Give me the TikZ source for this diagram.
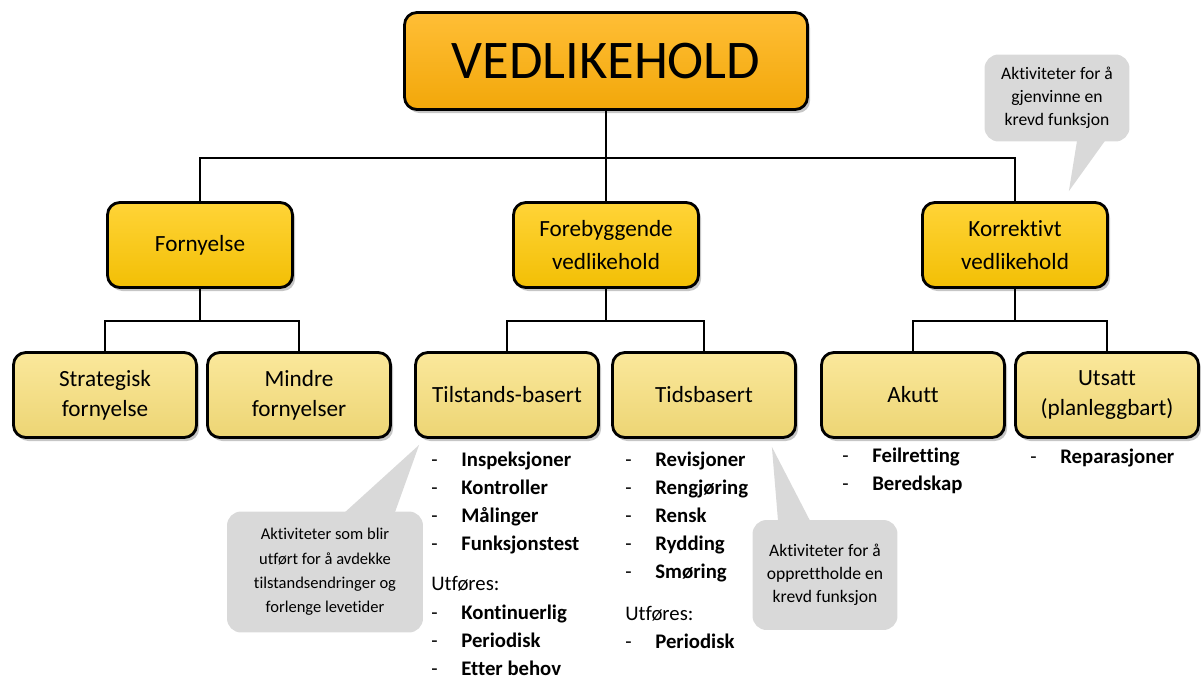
\documentclass[tikz,border=0pt]{standalone}
\usepackage{fontspec}
\setmainfont{Carlito}[Ligatures=NoCommon]
\usepackage{tikz}
\usetikzlibrary{calc}
\usetikzlibrary{shadows}
\usetikzlibrary{positioning}

\definecolor{oransje}{HTML}{FFB00A}
\definecolor{gull}{HTML}{FFC905}
\definecolor{lysgul}{HTML}{F9E07A}
\definecolor{boblegraa}{HTML}{D9D9D9}

\tikzstyle{boks} = [draw=black, line width=1.6pt, rounded corners=7pt, align=center, inner sep=2pt,
  drop shadow={shadow xshift=1.5pt, shadow yshift=-2pt, opacity=0.45}]
\tikzstyle{hoved} = [boks, top color=oransje!82!white, bottom color=oransje!95!black,
  minimum width=8.06cm, minimum height=1.94cm, font=\fontsize{31}{36}\selectfont]
\tikzstyle{niva2} = [boks, top color=gull!80!white, bottom color=gull!95!black,
  minimum width=3.7cm, minimum height=1.7cm, font=\fontsize{13.2}{18.5}\selectfont]
\tikzstyle{niva3} = [boks, top color=lysgul!75!white, bottom color=lysgul!95!black,
  minimum width=3.66cm, minimum height=1.7cm, font=\fontsize{13.2}{17}\selectfont]
\tikzstyle{liste} = [inner sep=0, align=left, anchor=north west, font=\fontsize{11.8}{15.9}\selectfont]
\tikzstyle{boble} = [fill=boblegraa, rounded corners=8pt, align=center, inner sep=2pt,
  font=\fontsize{10}{13.2}\selectfont]
\tikzstyle{linje} = [draw=black, line width=1.1pt]

\newcommand{\strek}{\makebox[0.6cm][l]{-}}

\begin{document}
\begin{tikzpicture}[x=0.02cm, y=-0.02cm]
\useasboundingbox (0,0) rectangle (1201,680);

% hovedboks og tre grener
\node [hoved] (vedl) at (606,61) {VEDLIKEHOLD};
\node [niva2] (forn) at (200,245) {Fornyelse};
\node [niva2] (fore) at (606,245) {Forebyggende\\vedlikehold};
\node [niva2] (korr) at (1015,245) {Korrektivt\\vedlikehold};

% nederste nivaa
\node [niva3] (strat) at (105,395) {Strategisk\\fornyelse};
\node [niva3] (mindre) at (299,395) {Mindre\\fornyelser};
\node [niva3] (tilst) at (507,395) {Tilstands-basert};
\node [niva3] (tids) at (704,395) {Tidsbasert};
\node [niva3] (akutt) at (913,395) {Akutt};
\node [niva3] (utsatt) at (1107,395) {Utsatt\\(planleggbart)};

% koblinger
\coordinate (j0) at (606,158);
\coordinate (j1) at (200,321);
\coordinate (j2) at (606,321);
\coordinate (j3) at (1015,321);
\draw [linje] (vedl.south) -- (fore.north);
\draw [linje] (forn.north) |- (j0) -| (korr.north);
\draw [linje] (forn.south) -- (j1);
\draw [linje] (strat.north) |- (j1) -| (mindre.north);
\draw [linje] (fore.south) -- (j2);
\draw [linje] (tilst.north) |- (j2) -| (tids.north);
\draw [linje] (korr.south) -- (j3);
\draw [linje] (akutt.north) |- (j3) -| (utsatt.north);

% lister
\node [liste] (tlist) at (431,452) {%
\strek\textbf{Inspeksjoner}\\
\strek\textbf{Kontroller}\\
\strek\textbf{Målinger}\\
\strek\textbf{Funksjonstest}\\[6.5pt]
Utføres:\\[1pt]
\strek\textbf{Kontinuerlig}\\
\strek\textbf{Periodisk}\\
\strek\textbf{Etter behov}};
\node [liste] (dlist) at (625,452) {%
\strek\textbf{Revisjoner}\\
\strek\textbf{Rengjøring}\\
\strek\textbf{Rensk}\\
\strek\textbf{Rydding}\\
\strek\textbf{Smøring}\\[8pt]
Utføres:\\
\strek\textbf{Periodisk}};
\node [liste] (alist) at (842,448) {%
\strek\textbf{Feilretting}\\
\strek\textbf{Beredskap}};
\node [liste] (ulist) at (1030,449) {%
\strek\textbf{Reparasjoner}};

% kommentarbobler
\node [boble, minimum width=2.9cm, minimum height=1.74cm] (cb1) at (1057,98)
  {Aktiviteter for å\\gjenvinne en\\krevd funksjon};
\node [boble, minimum width=3.92cm, minimum height=2.42cm, font=\fontsize{9.4}{13.8}\selectfont] (cb2) at (325,572)
  {Aktiviteter som blir\\utført for å avdekke\\tilstandsendringer og\\forlenge levetider};
\node [boble, minimum width=2.9cm, minimum height=2.2cm] (cb3) at (825,575)
  {Aktiviteter for å\\opprettholde en\\krevd funksjon};
\fill [boblegraa] ($(cb1.south)+(20,-1)$) -- ($(cb1.south)+(48,-1)$) -- ($(korr.north east)+(-40,-10)$) -- cycle;
\fill [boblegraa] ($(cb2.north)+(20,1)$) -- ($(cb2.north)+(70,1)$) -- ($(tilst.south west)+(5,6)$) -- cycle;
\fill [boblegraa] ($(cb3.north)+(-47,1)$) -- ($(cb3.north)+(-15,1)$) -- ($(tids.south east)+(-25,8)$) -- cycle;
\end{tikzpicture}
\end{document}
